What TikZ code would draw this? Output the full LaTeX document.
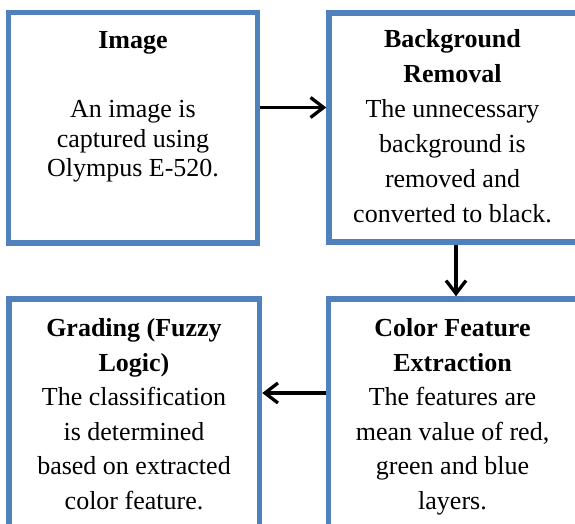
\documentclass[tikz,border=0pt]{standalone}
\usepackage{fontspec}
\setmainfont{Liberation Serif}
\usetikzlibrary{arrows.meta}
\definecolor{boxblue}{RGB}{79,129,189}
\newcommand\stack[1]{\begin{tabular}[t]{@{}c@{}}#1\end{tabular}}
\begin{document}
\begin{tikzpicture}[x=1pt,y=1pt,
  stepbox/.style={draw=boxblue,line width=5.5pt,rectangle,inner sep=0pt},
  txt/.style={anchor=base,inner sep=0pt,font=\fontsize{26}{34.5}\selectfont},
  flow/.style={line width=3.3pt,-{Straight Barb[length=13pt,width=20pt]}}]
\clip (0,0) rectangle (575,524);
\fill[white] (0,0) rectangle (575,524);
% boxes
\node[stepbox,minimum width=249pt,minimum height=230.5pt] (A) at (133,396.25) {};
\node[stepbox,minimum width=254pt,minimum height=229pt] (B) at (456,396.5) {};
\node[stepbox,minimum width=250.5pt,minimum height=261pt] (C) at (134.25,94.5) {};
\node[stepbox,minimum width=255pt,minimum height=261pt] (D) at (456,94.5) {};
% texts
\node[txt] (Atitle) at (133,475) {\textbf{Image}};
\node[txt,font=\fontsize{26}{29.5}\selectfont] (Abody) at (133,406) {\stack{An image is\\captured using\\Olympus E-520.}};
\node[txt,font=\fontsize{26}{35}\selectfont] (Btext) at (452.5,476) {\stack{\textbf{Background}\\\textbf{Removal}\\The unnecessary\\background is\\removed and\\converted to black.}};
\node[txt] (Ctext) at (134,187) {\stack{\textbf{Grading (Fuzzy}\\\textbf{Logic)}\\The classification\\is determined\\based on extracted\\color feature.}};
\node[txt] (Dtext) at (452.5,187) {\stack{\textbf{Color Feature}\\\textbf{Extraction}\\The features are\\mean value of red,\\green and blue\\layers.}};
% connectors
\draw[flow] ([yshift=20.25pt]A.east) -- ([yshift=20pt]B.west);
\draw[flow] (B.south) -- (D.north);
\draw[flow] ([yshift=36.5pt]D.west) -- ([yshift=36.5pt]C.east);
\end{tikzpicture}
\end{document}
